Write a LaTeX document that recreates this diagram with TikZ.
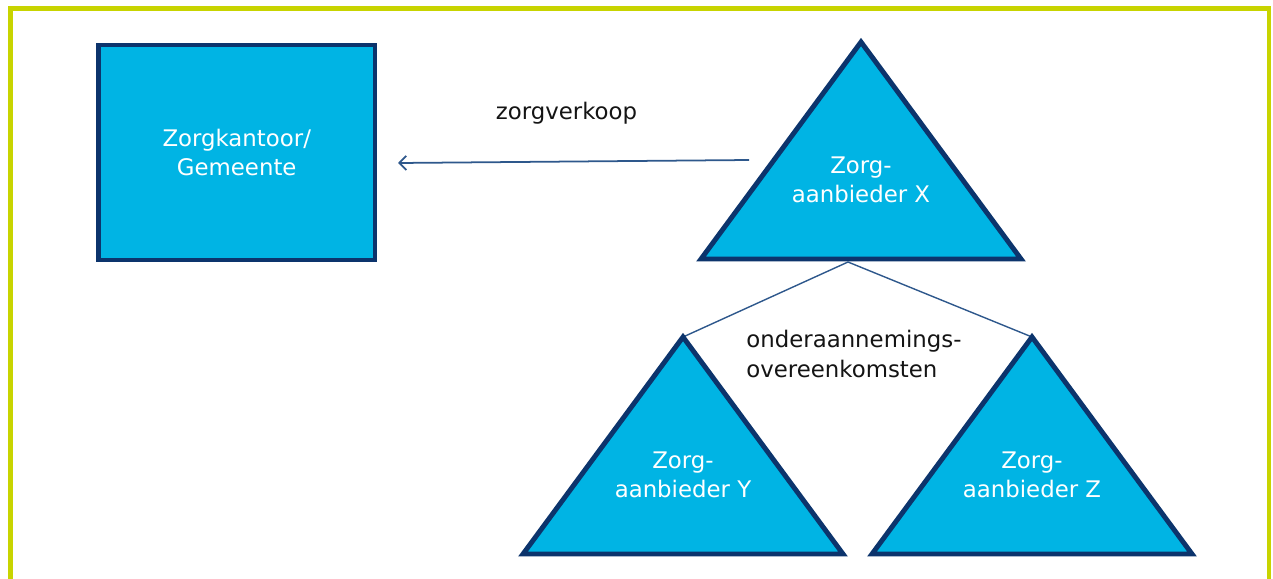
\documentclass[tikz,border=0pt]{standalone}
\usepackage{fontspec}
\setmainfont{DejaVu Sans}
\usetikzlibrary{arrows.meta}

\definecolor{framegreen}{RGB}{200,212,0}
\definecolor{boxcyan}{RGB}{0,180,228}
\definecolor{boxnavy}{RGB}{12,52,108}
\definecolor{linkblue}{RGB}{46,88,140}
\definecolor{darktext}{RGB}{20,20,20}

\tikzset{
  boxed/.style = {draw=boxnavy, fill=boxcyan, line width=2.8pt, line join=miter},
  whitetext/.style = {text=white, align=center, font=\fontsize{13}{16.2}\selectfont, inner sep=0pt},
  blacktext/.style = {text=darktext, font=\fontsize{13}{16.2}\selectfont, inner sep=0pt},
  link/.style = {draw=linkblue, line width=0.8pt}
}

\begin{document}
\begin{tikzpicture}[x=0.02cm, y=-0.02cm]

\useasboundingbox (0,0) rectangle (1273,578);
\clip (0,0) rectangle (1273,578);
\draw [framegreen, line width=2.3pt] (10.5,8.5) rectangle (1269,600);

\foreach \n/\x/\y in {x/861/42, y/683/337, z/1032/337} {\coordinate (top\n) at (\x,\y);}
\coordinate (xfoot) at (848,262);
\coordinate (sellfrom) at (749,160);
\coordinate (sellto) at (398,163);

\draw [link] (xfoot) -- (topy);
\draw [link] (xfoot) -- (topz);

\foreach \n/\l in {x/X, y/Y, z/Z} {
  \filldraw [boxed] (top\n) -- ++(-160,217) -- ++(320,0) -- cycle;
  \path (top\n) ++(0,138) node [whitetext] (prov\n) {Zorg-\\aanbieder \l};
}

\node [boxed, whitetext, minimum width=5.53cm, minimum height=4.3cm] (office) at (236.75,152.5) {Zorgkantoor/\\Gemeente};

\draw [link, line width=1pt, -{Straight Barb[length=4pt,width=8pt]}] (sellfrom) -- (sellto);

\node [blacktext, anchor=base] (sale) at (566.5,119.3) {zorgverkoop};
\node [blacktext, align=left, anchor=west, font=\fontsize{13}{17.6}\selectfont] (subcontract) at (746,354) {onderaannemings-\\overeenkomsten};

\end{tikzpicture}
\end{document}
